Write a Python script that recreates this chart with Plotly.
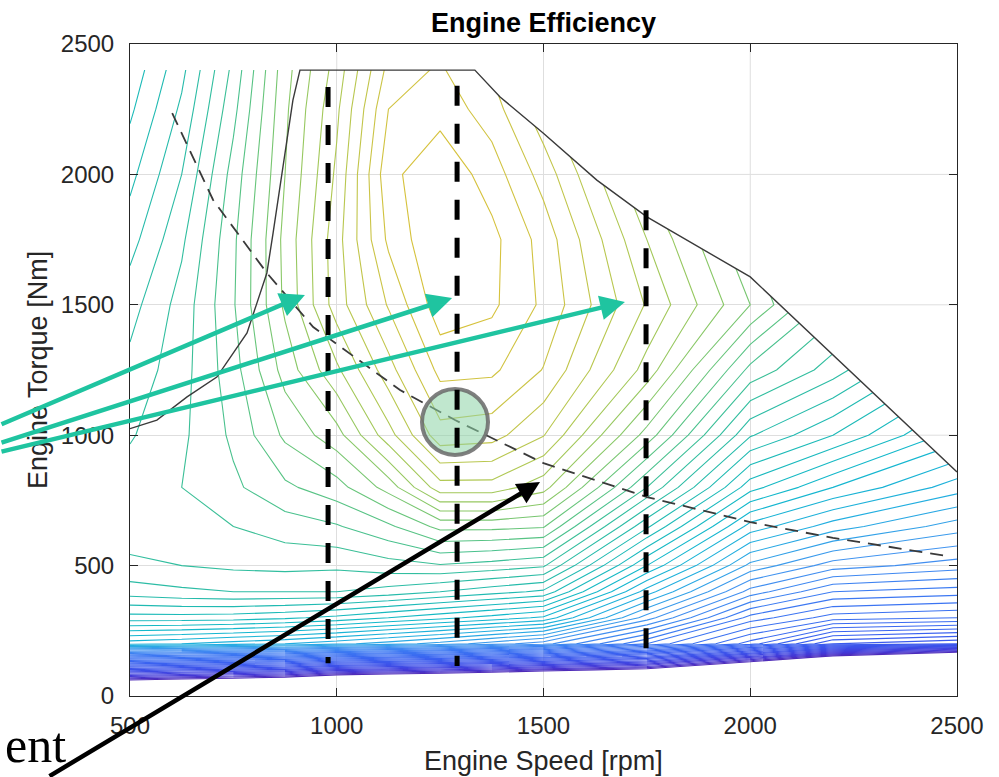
import numpy as np
import plotly.graph_objects as go

# ---------------- data ----------------
speed_rpm = [500, 625, 750, 875, 1000, 1125, 1250, 1375, 1500, 1750, 2000, 2200, 2500]
torque_nm = [0, 60, 100, 150, 200, 300, 400, 500, 650, 800, 1000, 1250, 1500, 1750, 2000, 2250, 2500]

# efficiency contour level index (one contour line per unit), rows = torque, cols = speed
eff_t0    = [-20, -21, -22, -23, -25, -26, -27, -28, -30, -33, -40, -46, -56]
eff_t60   = [0.7, -0.2, -0.9, -1.9, -4.2, -4.9, -5.6, -6.6, -7.8, -9.0, -16.0, -23.0, -36.0]
eff_t100  = [9.7, 9.0, 8.3, 7.5, 5.7, 4.9, 4.1, 3.2, 2.0, 0.0, -6.5, -13.0, -22.3]
eff_t150  = [21.1, 20.5, 19.9, 19.3, 18.0, 17.2, 16.4, 15.3, 14.2, 11.3, 5.5, 0.0, -5.1]
eff_t200  = [32.4, 32.0, 31.5, 31.0, 30.3, 29.5, 28.6, 27.5, 26.4, 22.0, 17.5, 13.0, 12.0]
eff_t300  = [37.6, 37.6, 37.5, 37.2, 36.7, 36.0, 35.3, 34.6, 33.8, 27.5, 21.6, 19.5, 19.0]
eff_t400  = [40.5, 40.8, 41.0, 41.0, 41.0, 40.6, 40.0, 39.4, 38.8, 31.5, 25.6, 23.0, 22.5]
eff_t500  = [41.8, 42.0, 42.2, 42.3, 42.2, 42.6, 42.9, 42.6, 42.15, 35.0, 28.7, 26.5, 25.5]
eff_t650  = [42.5, 42.8, 43.0, 43.5, 43.9, 44.8, 46.3, 46.3, 46.1, 39.2, 32.6, 30.5, 28.5]
eff_t800  = [42.5, 43.0, 43.8, 44.8, 45.6, 47.4, 50.6, 50.6, 49.4, 43.0, 36.4, 34.0, 31.5]
eff_t1000 = [41.9, 42.8, 44.2, 46.2, 47.6, 50.6, 53.6, 53.4, 52.05, 46.6, 40.1, 38.0, 34.5]
eff_t1250 = [41.3, 42.6, 44.6, 47.4, 49.8, 52.6, 55.3, 55.2, 53.95, 49.6, 43.7, 41.5, 37.5]
eff_t1500 = [40.6, 42.4, 44.9, 48.2, 51.5, 54.1, 56.6, 56.2, 54.8, 50.9, 47.0, 43.5, 39.5]
eff_t1750 = [39.6, 41.8, 44.8, 48.3, 51.6, 55.2, 57.0, 56.3, 54.6, 50.0, 46.0, 42.5, 39.0]
eff_t2000 = [38.7, 41.0, 44.4, 48.0, 51.2, 55.7, 56.8, 55.5, 53.6, 48.8, 45.0, 41.5, 38.0]
eff_t2250 = [37.8, 40.2, 43.7, 47.8, 50.8, 55.0, 55.6, 54.5, 52.3, 47.5, 44.0, 40.5, 37.0]
eff_t2500 = [37.0, 39.4, 43.0, 47.5, 50.2, 53.9, 54.8, 53.5, 51.0, 46.5, 43.0, 39.5, 36.0]

# max-torque envelope
maxT_speed = [500, 565, 638, 710, 783, 831, 846, 875, 894, 911, 1334, 1395, 1499, 1629, 1750, 2000, 2500]
maxT_torque = [1025, 1058, 1147, 1223, 1392, 1622, 1775, 2093, 2285, 2400, 2400, 2297, 2159, 1978, 1837, 1607, 859]

# constant-power (dashed) curve
power_speed = [602, 701, 831, 943, 1153, 1286, 1500, 1750, 2000, 2200, 2476]
power_torque = [2235, 1902, 1622, 1415, 1173, 1058, 893, 763, 667, 606, 537]

# thick vertical dashed markers
marker_speed = [979, 1291, 1748]
marker_top = [2335, 2340, 1863]
marker_bottom = [126, 115, 115]

# highlighted operating point
op_speed, op_torque = 1286, 1051

x_ticks = [500, 1000, 1500, 2000, 2500]
y_ticks = [0, 500, 1000, 1500, 2000, 2500]

# ---------------- figure ----------------
eff_grid = [eff_t0, eff_t60, eff_t100, eff_t150, eff_t200, eff_t300, eff_t400, eff_t500,
            eff_t650, eff_t800, eff_t1000, eff_t1250, eff_t1500, eff_t1750, eff_t2000,
            eff_t2250, eff_t2500]

colorscale = [
    [0.000, '#4f2cb8'], [0.053, '#4438d6'], [0.140, '#3d4ee8'], [0.260, '#3a62f0'],
    [0.386, '#3c78f2'], [0.474, '#4294f0'], [0.544, '#22aee0'], [0.614, '#12b8cc'],
    [0.684, '#1ebab4'], [0.754, '#34be9c'], [0.807, '#5cc480'], [0.860, '#8ec864'],
    [0.912, '#b2c852'], [0.965, '#ccc446'], [1.000, '#d6c23c'],
]

fig = go.Figure()
fig.add_trace(go.Contour(
    x=speed_rpm, y=torque_nm, z=eff_grid,
    autocontour=False,
    contours=dict(start=1, end=56, size=1, coloring='lines'),
    line=dict(width=1.1, smoothing=0),
    colorscale=colorscale, zmin=0, zmax=57, showscale=False, hoverinfo='skip'))

# white mask above the max-torque envelope
i0 = maxT_speed.index(911)
mask_x = [500] + maxT_speed[i0:] + [2600, 2600, 500]
mask_y = [2400] + maxT_torque[i0:] + [859, 2600, 2600]
fig.add_trace(go.Scatter(x=mask_x, y=mask_y, mode='lines', fill='toself',
                         fillcolor='white', line=dict(width=0, color='white'),
                         hoverinfo='skip'))

# grid lines redrawn inside the masked (white) region
env_s = maxT_speed[i0:]
env_t = maxT_torque[i0:]
gx, gy = [], []
for xv in x_ticks[1:-1]:
    y0 = float(np.interp(xv, env_s, env_t))
    gx += [xv, xv, None]
    gy += [y0, 2500, None]
desc_s = maxT_speed[i0 + 1:]
desc_t = maxT_torque[i0 + 1:]
for yv in y_ticks[1:-1]:
    if yv > min(desc_t):
        x0 = float(np.interp(yv, desc_t[::-1], desc_s[::-1]))
        gx += [x0, 2500, None]
        gy += [yv, yv, None]
fig.add_trace(go.Scatter(x=gx, y=gy, mode='lines', line=dict(color='#dedede', width=1),
                         hoverinfo='skip'))

fig.add_trace(go.Scatter(x=maxT_speed, y=maxT_torque, mode='lines',
                         line=dict(color='#3a3a3a', width=1.4), hoverinfo='skip'))
fig.add_trace(go.Scatter(x=power_speed, y=power_torque, mode='lines',
                         line=dict(color='#3a3a3a', width=1.8, dash='13px,8px'),
                         hoverinfo='skip'))

# px per data unit (plot area 827 x 652 px)
px_x = 827 / 2000.0
px_y = 652 / 2500.0
r_px = 33
shapes = [dict(type='circle', xref='x', yref='y',
               x0=op_speed - r_px / px_x, x1=op_speed + r_px / px_x,
               y0=op_torque - r_px / px_y, y1=op_torque + r_px / px_y,
               fillcolor='rgba(140,212,165,0.55)',
               line=dict(color='rgba(105,105,105,0.85)', width=4), layer='above')]
for s, t1, t0 in zip(marker_speed, marker_top, marker_bottom):
    shapes.append(dict(type='line', xref='x', yref='y', x0=s, x1=s, y0=t1, y1=t0,
                       line=dict(color='black', width=5, dash='20px,18px'), layer='above'))

ann = []
ann.append(dict(text='Engine Speed [rpm]', xref='paper', yref='paper', x=0.5,
                y=(696 - 761) / 652, xanchor='center', yanchor='middle', showarrow=False,
                font=dict(size=27, color='#262626')))
ann.append(dict(text='Engine Torque [Nm]', xref='paper', yref='paper', x=(38 - 130) / 827,
                y=0.5, xanchor='center', yanchor='middle', textangle=-90, showarrow=False,
                font=dict(size=27, color='#262626')))
ann.append(dict(text='ent', xref='paper', yref='paper', x=(3 - 130) / 827,
                y=(696 - 775) / 652, xanchor='left', yanchor='bottom', showarrow=False,
                font=dict(family='Liberation Serif', size=50, color='black')))

teal = '#1fc4a0'
heads = [(923, 1538, -325, 130), (1279, 1526, -472, 145), (1697, 1511, -645, 150)]
for hx, hy, ax, ay in heads:
    ann.append(dict(x=hx, y=hy, xref='x', yref='y', ax=ax, ay=ay, text='',
                    showarrow=True, arrowhead=2, arrowsize=1.1, arrowwidth=4.5,
                    arrowcolor=teal))
ann.append(dict(x=1491.5, y=820.6, xref='x', yref='y', ax=-492, ay=318, text='',
                showarrow=True, arrowhead=2, arrowsize=1.0, arrowwidth=4.5,
                arrowcolor='black'))

axis_common = dict(ticks='inside', ticklen=8, tickwidth=1, tickcolor='#262626',
                   showline=True, linewidth=1, linecolor='#262626', mirror='ticks',
                   showgrid=True, gridcolor='#dedede', gridwidth=1, zeroline=False,
                   tickfont=dict(size=24, color='#262626'), automargin=False)

fig.update_layout(
    template='none', width=999, height=777,
    margin=dict(l=130, r=42, t=44, b=81),
    paper_bgcolor='white', plot_bgcolor='white', showlegend=False,
    font=dict(family='Liberation Sans, Arial, sans-serif', color='#262626'),
    title=dict(text='<b>Engine Efficiency</b>', x=0.5, xref='paper', xanchor='center',
               y=1 - 23 / 777, yref='container', yanchor='middle',
               font=dict(size=27, color='black')),
    xaxis=dict(range=[500, 2500], tickvals=x_ticks, ticklabelstandoff=8, **axis_common),
    yaxis=dict(range=[0, 2500], tickvals=y_ticks, ticklabelstandoff=10, **axis_common),
    shapes=shapes, annotations=ann,
)

fig.write_html('out.html')
